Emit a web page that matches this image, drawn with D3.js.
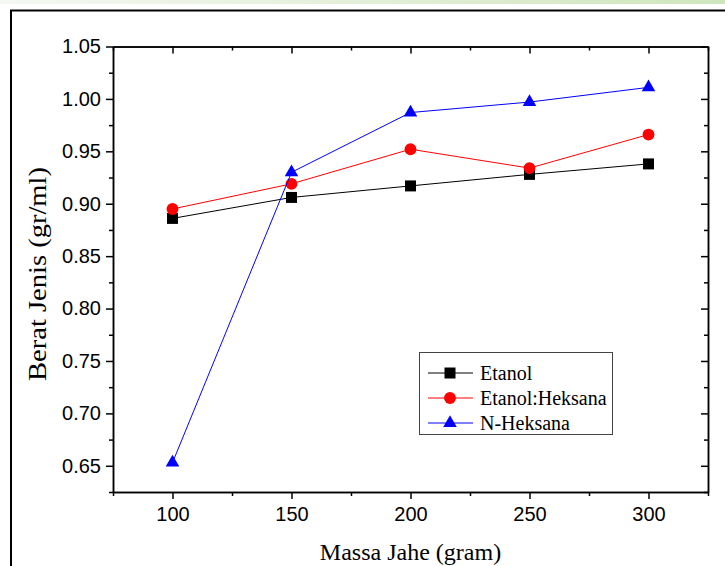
<!DOCTYPE html>
<html>
<head>
<meta charset="utf-8">
<script src="https://cdn.jsdelivr.net/npm/d3@7"></script>
<style>
  body { margin: 0; background: #fff; }
  svg { display: block; }
</style>
</head>
<body>
<svg id="chart"></svg>
<script>
const massa = [100, 150, 200, 250, 300];
const etanol = [0.886, 0.906, 0.917, 0.928, 0.938];
const etanolHeksana = [0.895, 0.919, 0.952, 0.934, 0.966];
const nHeksana = [0.653, 0.930, 0.987, 0.997, 1.011];

const xMajor = [100, 150, 200, 250, 300];
const xMinor = [75, 125, 175, 225, 275, 325];
const yMajor = [0.65, 0.70, 0.75, 0.80, 0.85, 0.90, 0.95, 1.00, 1.05];
const yMinor = [0.625, 0.675, 0.725, 0.775, 0.825, 0.875, 0.925, 0.975, 1.025];

const seriesNames = ["Etanol", "Etanol:Heksana", "N-Heksana"];
const seriesValues = [etanol, etanolHeksana, nHeksana];
const seriesColors = ["#000000", "#ff0000", "#0000ff"];
const seriesShapes = [d3.symbolSquare, d3.symbolCircle, d3.symbolTriangle];
const shapeSizes = [121, 110, 80];

const width = 725;
const height = 566;
const plotLeft = 113;
const plotRight = 708;
const plotTop = 46.5;
const plotBottom = 492;

const svg = d3.select("#chart").attr("width", width).attr("height", height);

// top green strip + frame
const grad = svg.append("defs").append("linearGradient").attr("id", "strip");
grad.append("stop").attr("offset", "0%").attr("stop-color", "#f6f8f3");
grad.append("stop").attr("offset", "100%").attr("stop-color", "#cfe6bd");
svg.append("rect").attr("x", 0).attr("y", 0).attr("width", width).attr("height", 4)
  .attr("fill", "url(#strip)");
svg.append("path").attr("d", "M11,566V10.5H725")
  .attr("fill", "none").attr("stroke", "#000").attr("stroke-width", 2);

const xScale = d3.scaleLinear().domain([75, 325]).range([plotLeft, plotRight]);
const yScale = d3.scaleLinear().domain([0.625, 1.05]).range([plotBottom, plotTop]);

const styleAxis = (g) => {
  g.selectAll("path, line").attr("stroke", "#000").attr("stroke-width", 1.5);
  g.selectAll("text").attr("font-family", "'Liberation Sans', Arial, sans-serif")
    .attr("font-size", 20).attr("fill", "#000");
};

// bottom
svg.append("g").attr("transform", "translate(0," + plotBottom + ")")
  .call(d3.axisBottom(xScale).tickValues(xMajor).tickSize(7).tickSizeOuter(0).tickPadding(8))
  .call(styleAxis);
svg.append("g").attr("transform", "translate(0," + plotBottom + ")")
  .call(d3.axisBottom(xScale).tickValues(xMinor).tickSize(4).tickSizeOuter(0).tickFormat(""))
  .call(styleAxis);
// top
svg.append("g").attr("transform", "translate(0," + plotTop + ")")
  .call(d3.axisTop(xScale).tickValues(xMajor).tickSize(-7).tickSizeOuter(0).tickFormat(""))
  .call(styleAxis);
svg.append("g").attr("transform", "translate(0," + plotTop + ")")
  .call(d3.axisTop(xScale).tickValues(xMinor).tickSize(-4).tickSizeOuter(0).tickFormat(""))
  .call(styleAxis);
// left
svg.append("g").attr("transform", "translate(" + plotLeft + ",0)")
  .call(d3.axisLeft(yScale).tickValues(yMajor).tickSize(7).tickSizeOuter(0)
    .tickPadding(5).tickFormat(d3.format(".2f")))
  .call(styleAxis);
svg.append("g").attr("transform", "translate(" + plotLeft + ",0)")
  .call(d3.axisLeft(yScale).tickValues(yMinor).tickSize(4).tickSizeOuter(0).tickFormat(""))
  .call(styleAxis);
// right
svg.append("g").attr("transform", "translate(" + plotRight + ",0)")
  .call(d3.axisRight(yScale).tickValues(yMajor).tickSize(-7).tickSizeOuter(0).tickFormat(""))
  .call(styleAxis);
svg.append("g").attr("transform", "translate(" + plotRight + ",0)")
  .call(d3.axisRight(yScale).tickValues(yMinor).tickSize(-4).tickSizeOuter(0).tickFormat(""))
  .call(styleAxis);

// axis titles
svg.append("text").attr("x", (plotLeft + plotRight) / 2).attr("y", 560)
  .attr("text-anchor", "middle")
  .attr("font-family", "'Liberation Serif', 'Times New Roman', serif")
  .attr("font-size", 24).text("Massa Jahe (gram)");
svg.append("text")
  .attr("transform", "translate(46,274) rotate(-90)")
  .attr("text-anchor", "middle")
  .attr("font-family", "'Liberation Serif', 'Times New Roman', serif")
  .attr("font-size", 25).attr("textLength", 214).attr("lengthAdjust", "spacingAndGlyphs")
  .text("Berat Jenis (gr/ml)");

// series
const line = d3.line().x((d, i) => xScale(massa[i])).y((d) => yScale(d));

seriesValues.forEach((vals, s) => {
  svg.append("path").datum(vals).attr("d", line)
    .attr("fill", "none").attr("stroke", seriesColors[s]).attr("stroke-width", 1);
  svg.selectAll(".pt" + s).data(vals).enter().append("path")
    .attr("class", "pt" + s)
    .attr("d", d3.symbol().type(seriesShapes[s]).size(shapeSizes[s]))
    .attr("transform", (d, i) => "translate(" + xScale(massa[i]) + "," + yScale(d) + ")")
    .attr("fill", seriesColors[s]);
});

// legend
const legend = svg.append("g");
legend.append("rect").attr("x", 419.5).attr("y", 352.5).attr("width", 193).attr("height", 82)
  .attr("fill", "#fff").attr("stroke", "#444").attr("stroke-width", 1);
seriesNames.forEach((name, s) => {
  const ly = 373 + s * 25;
  legend.append("line").attr("x1", 428).attr("x2", 473).attr("y1", ly).attr("y2", ly)
    .attr("stroke", seriesColors[s]).attr("stroke-width", 1);
  legend.append("path")
    .attr("d", d3.symbol().type(seriesShapes[s]).size(shapeSizes[s]))
    .attr("transform", "translate(450," + ly + ")")
    .attr("fill", seriesColors[s]);
  legend.append("text").attr("x", 480).attr("y", ly).attr("dy", "0.35em")
    .attr("font-family", "'Liberation Serif', 'Times New Roman', serif")
    .attr("font-size", 20).text(name);
});
</script>
</body>
</html>
